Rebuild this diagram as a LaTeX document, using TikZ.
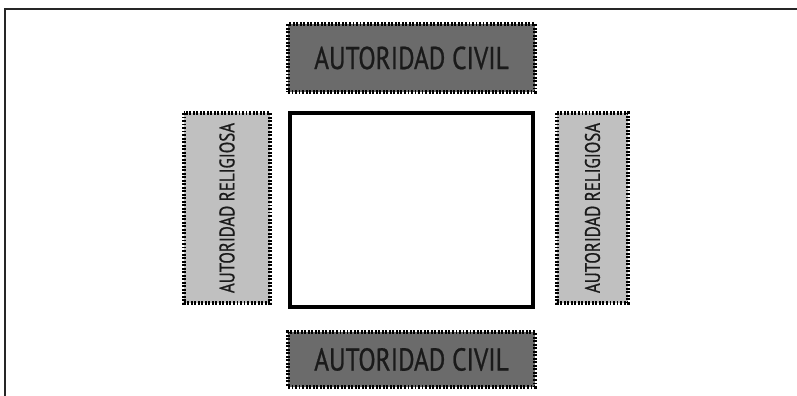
\documentclass[tikz,border=0pt]{standalone}
\usepackage{fontspec}
\setmainfont{PT Sans}[FakeStretch=0.8,FakeBold=0.7]
\usepackage{tikz}

\definecolor{grisoscuro}{RGB}{107,107,107}
\definecolor{grisclaro}{RGB}{192,192,192}
\definecolor{tinta}{RGB}{26,26,26}

\begin{document}
\begin{tikzpicture}[cap=round,
    punteado/.style={draw=black,line width=2pt,dash pattern=on 1.1pt off 0.9pt,line cap=butt},
    civil/.style={punteado,fill=grisoscuro,text=tinta,minimum width=4.94cm,inner sep=0pt,font=\fontsize{18}{21}\selectfont},
    religiosa/.style={punteado,fill=grisclaro,text=tinta,rotate=90,minimum width=3.80cm,inner sep=0pt,font=\fontsize{12}{14}\selectfont}]

        \useasboundingbox (0,0) rectangle (15.94,7.92);

        % draw the frame
        \draw[line width=1.1pt,black!85] (0.10,0) -- (0.10,7.74) -- (15.94,7.74);

        % draw the centre box
        \node[draw,line width=2.1pt,minimum width=4.86cm,minimum height=3.88cm,inner sep=0pt] (centro) at (8.23,3.72) {};

        % draw the civil boxes
        \node[civil,minimum height=1.36cm] (civilarriba) at (8.23,6.76) {AUTORIDAD CIVIL};
        \node[civil,minimum height=1.10cm] (civilabajo)  at (8.23,0.73) {AUTORIDAD CIVIL};

        % draw the religious boxes
        \node[religiosa,minimum height=1.72cm] (religiosaizq) at (4.54,3.76)  {AUTORIDAD RELIGIOSA};
        \node[religiosa,minimum height=1.42cm] (religiosader) at (11.85,3.76) {AUTORIDAD RELIGIOSA};
    \end{tikzpicture}
\end{document}
